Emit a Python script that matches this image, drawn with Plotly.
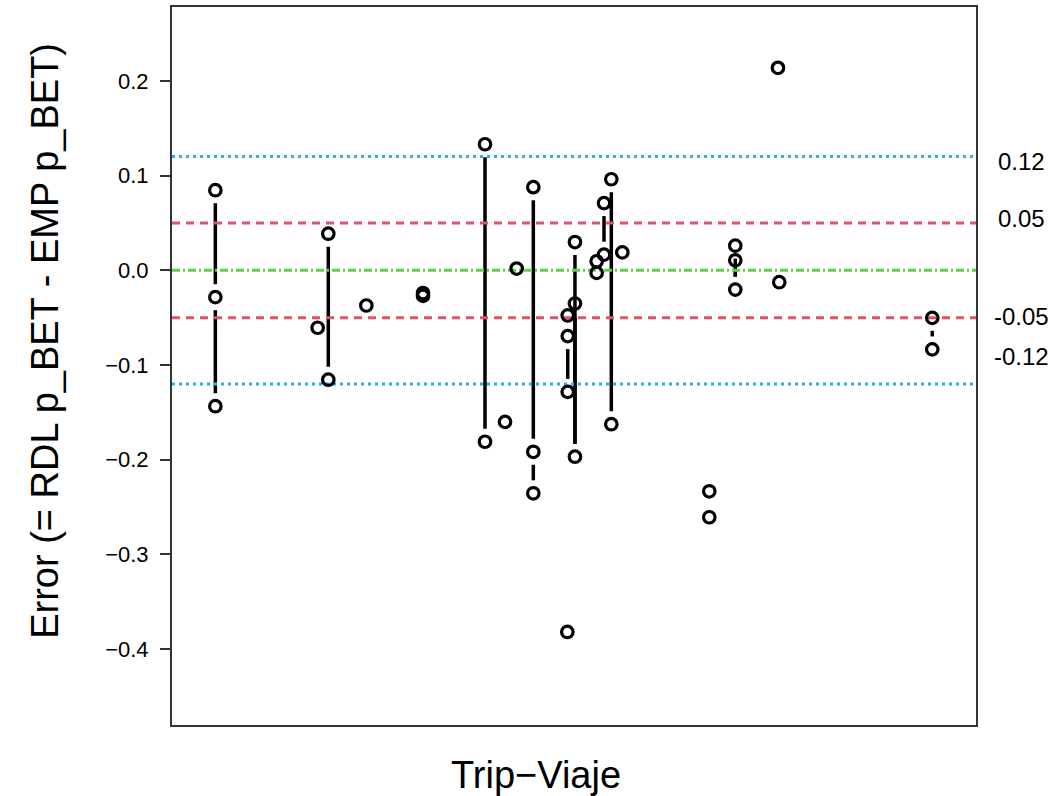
import plotly.graph_objects as go

# ---- data ----
# horizontal position of each trip (arbitrary 0-100 scale, no axis labels)
trip_x = [5.39, 18.12, 19.44, 24.17, 31.22, 38.93, 41.42, 42.87, 44.94,
          49.22, 49.17, 50.12, 52.82, 53.73, 54.64, 56.01, 66.83, 70.06,
          75.37, 75.53, 94.56]
# errors for each trip, in plotting order (consecutive points are joined)
trip_err = [
    [0.0845, -0.0284, -0.1435],
    [-0.0607],
    [0.0386, -0.1155],
    [-0.0372],
    [-0.0240, -0.0270],
    [0.1330, -0.1810],
    [-0.1600],
    [0.0018],
    [0.0877, -0.1916, -0.2354],
    [-0.0477, -0.0695, -0.1284],
    [-0.3818],
    [0.0298, -0.1968, -0.0351],
    [0.0095, -0.0028],
    [0.0709, 0.0165],
    [0.0961, -0.1625],
    [0.0189],
    [-0.2333, -0.2607],
    [0.0260, -0.0204, 0.0105],
    [0.2137],
    [-0.0126],
    [-0.0502, -0.0835],
]
ref_values = [0.12, 0.05, 0.0, -0.05, -0.12]
ref_styles = ["blue", "red", "green", "red", "blue"]
ref_labels = ["0.12", "0.05", "-0.05", "-0.12"]
ref_label_y = [0.1147, 0.0547, -0.0484, -0.0905]
y_ticks = [-0.4, -0.3, -0.2, -0.1, 0.0, 0.1, 0.2]
y_ticktext = ["\u22120.4", "\u22120.3", "\u22120.2", "\u22120.1", "0.0", "0.1", "0.2"]

# ---- layout geometry ----
W, H = 1058, 796
M_L, M_R, M_T, M_B = 172, 82, 5, 71
X_RANGE = [0, 100]
Y_RANGE = [-0.48, 0.2779]
GAP_PX = 13  # gap between point and connecting line (R type="b")

plot_h = H - M_T - M_B
px_per_unit = plot_h / (Y_RANGE[1] - Y_RANGE[0])
gap = GAP_PX / px_per_unit

FONT = "Liberation Sans, Arial, sans-serif"
line_colors = {"blue": "#2BB0EE", "red": "#DF536B", "green": "#61D04F"}
line_dash = {"blue": "3px,4px", "red": "8px,6px", "green": "8px,3px,2px,3px"}

fig = go.Figure()

# connecting segments with gaps around points
seg_x, seg_y = [], []
for x, ys in zip(trip_x, trip_err):
    for y1, y2 in zip(ys[:-1], ys[1:]):
        if abs(y2 - y1) > 2 * gap:
            s = 1 if y2 > y1 else -1
            seg_x += [x, x, None]
            seg_y += [y1 + s * gap, y2 - s * gap, None]
fig.add_trace(go.Scatter(x=seg_x, y=seg_y, mode="lines",
                         line=dict(color="black", width=3.5),
                         hoverinfo="skip", showlegend=False))

# reference lines
for v, st in zip(ref_values, ref_styles):
    fig.add_trace(go.Scatter(x=X_RANGE, y=[v, v], mode="lines",
                             line=dict(color=line_colors[st], width=3,
                                       dash=line_dash[st]),
                             hoverinfo="skip", showlegend=False))

# points
px, py = [], []
for x, ys in zip(trip_x, trip_err):
    for y in ys:
        px.append(x)
        py.append(y)
fig.add_trace(go.Scatter(x=px, y=py, mode="markers",
                         marker=dict(symbol="circle-open", size=11.5, color="black",
                                     line=dict(width=3.2, color="black")),
                         showlegend=False))

# right-hand labels of reference lines
for lab, ly in zip(ref_labels, ref_label_y):
    fig.add_annotation(x=1.057, xref="paper", y=ly, yref="y", text=lab,
                       showarrow=False, xanchor="center", yanchor="middle",
                       font=dict(family=FONT, size=24, color="black"))

# axis titles
fig.add_annotation(x=-0.158, y=0.535, xref="paper", yref="paper",
                   text="Error (= RDL p_BET - EMP p_BET)", textangle=-90,
                   showarrow=False, xanchor="center", yanchor="middle",
                   font=dict(family=FONT, size=38, color="black"))
fig.add_annotation(x=0.453, y=-0.069, xref="paper", yref="paper",
                   text="Trip\u2212Viaje", showarrow=False,
                   xanchor="center", yanchor="middle",
                   font=dict(family=FONT, size=38, color="black"))

fig.update_layout(
    width=W, height=H,
    margin=dict(l=M_L, r=M_R, t=M_T, b=M_B, pad=0),
    paper_bgcolor="white", plot_bgcolor="white",
    font=dict(family=FONT, color="black"),
    xaxis=dict(range=X_RANGE, showgrid=False, zeroline=False,
               showticklabels=False, ticks="", showline=True, mirror=True,
               linecolor="#333333", linewidth=2),
    yaxis=dict(range=Y_RANGE, showgrid=False, zeroline=False,
               tickvals=y_ticks, ticktext=y_ticktext, ticks="outside",
               ticklen=10, tickwidth=1.5, tickcolor="#333333",
               ticklabelstandoff=7,
               tickfont=dict(family=FONT, size=22, color="black"),
               showline=True, mirror=True, linecolor="#333333", linewidth=2),
)

fig.write_html("out.html")
